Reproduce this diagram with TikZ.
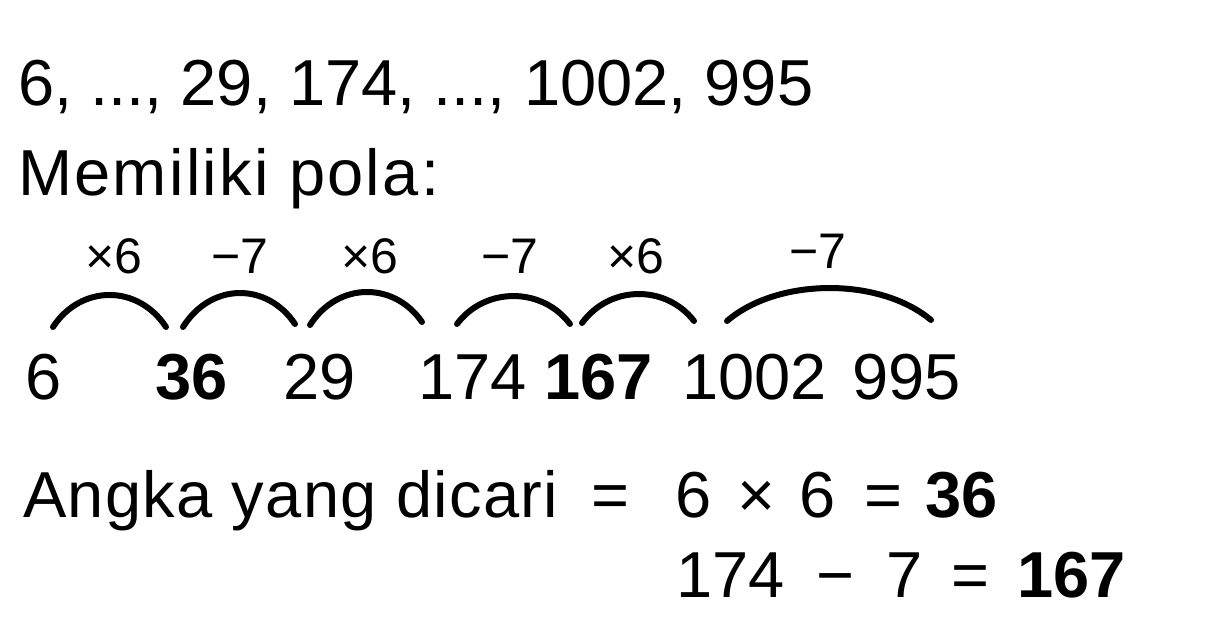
\documentclass[tikz,border=0pt]{standalone}
\usepackage{fontspec}
\setmainfont{Liberation Sans}
\begin{document}
\begin{tikzpicture}[x=1pt,y=-1pt,
  txt/.style={anchor=base west,inner sep=0pt,font=\fontsize{65}{70}\selectfont},
  btxt/.style={txt,font=\fontsize{65}{70}\selectfont\bfseries},
  lbl/.style={anchor=base,inner sep=0pt,font=\fontsize{50}{54}\selectfont},
  hop/.style={line width=6pt,line cap=round}]
\useasboundingbox[fill=white] (0,0) rectangle (1216,632);
% header
\node[txt] (seq) at (18,105) {6, ..., 29, 174, ..., 1002, 995};
\node[txt] (pola) at (18,195) {\addfontfeature{LetterSpace=3.5}Memiliki pola:};
% labels
\node[lbl] (l1) at (114,273) {×6};
\node[lbl] (l2) at (240,273) {−7};
\node[lbl] (l3) at (370,273) {×6};
\node[lbl] (l4) at (510,273) {−7};
\node[lbl] (l5) at (636,273) {×6};
\node[lbl] (l6) at (818,268) {−7};
% arcs
\coordinate (a1s) at (53,327);  \coordinate (a1e) at (166,327);
\coordinate (a2s) at (183,327); \coordinate (a2e) at (295,324);
\coordinate (a3s) at (310,325); \coordinate (a3e) at (422,322);
\coordinate (a4s) at (457,324); \coordinate (a4e) at (570,324);
\coordinate (a5s) at (582,323); \coordinate (a5e) at (694,321);
\coordinate (a6s) at (727,321); \coordinate (a6e) at (931,320);
\draw[hop] (a1s) .. controls (81,284.3) and (138,284.3) .. (a1e);
\draw[hop] (a2s) .. controls (211,282.2) and (267,282.2) .. (a2e);
\draw[hop] (a3s) .. controls (338,281.5) and (394,281.5) .. (a3e);
\draw[hop] (a4s) .. controls (485,286.7) and (542,286.7) .. (a4e);
\draw[hop] (a5s) .. controls (610,284.7) and (666,284.7) .. (a5e);
\draw[hop] (a6s) .. controls (778,277.2) and (880,277.2) .. (a6e);
% numbers row
\node[txt]  (n1) at (25,399)  {6};
\node[btxt] (n2) at (155,399) {36};
\node[txt]  (n3) at (283,399) {29};
\node[txt]  (n4) at (418,399) {174};
\node[btxt] (n5) at (544,399) {167};
\node[txt]  (n6) at (682,399) {1002};
\node[txt]  (n7) at (852,399) {995};
% answer
\node[txt] (ang) at (23,517) {\addfontfeature{LetterSpace=2}Angka yang dicari};
\node[txt] (eq0) at (591,517) {=};
\node[txt] (e1a) at (675,517) {6};
\node[txt] (e1b) at (737,517) {×};
\node[txt] (e1c) at (799,517) {6};
\node[txt] (e1d) at (864,517) {=};
\node[btxt] (e1e) at (925,517) {36};
\node[txt] (e2a) at (676,597) {174};
\node[txt] (e2b) at (816,597) {−};
\node[txt] (e2c) at (886,597) {7};
\node[txt] (e2d) at (951,597) {=};
\node[btxt] (e2e) at (1017,597) {167};
\end{tikzpicture}
\end{document}
